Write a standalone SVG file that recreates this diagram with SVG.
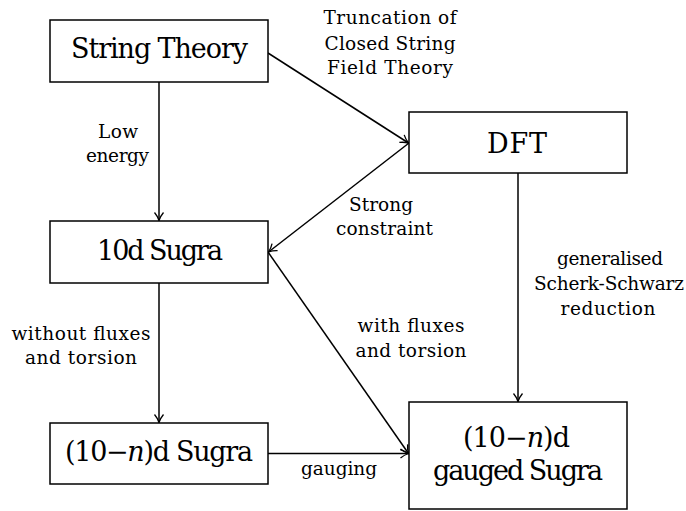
<svg xmlns="http://www.w3.org/2000/svg" width="686" height="511" viewBox="0 0 686 511">
<style>
.box{fill:#fff;stroke:#000;stroke-width:1.5}
.node{font-family:"DejaVu Serif","Liberation Serif",serif;font-size:27px;fill:#000;text-anchor:middle}
.lbl{font-family:"DejaVu Serif","Liberation Serif",serif;font-size:18.5px;fill:#000;text-anchor:middle}
.edge{fill:none;stroke:#000;stroke-width:1.5;marker-end:url(#arr)}
</style>
<defs>
<marker id="arr" viewBox="-10 -6 12 12" refX="0" refY="0" markerWidth="12" markerHeight="12" orient="auto" markerUnits="userSpaceOnUse">
<path d="M-8,-4.5 C-5,-2 -1.5,-0.5 0,0 C-1.5,0.5 -5,2 -8,4.5" fill="none" stroke="#000" stroke-width="1.3"/>
</marker>
</defs>
<rect width="686" height="511" fill="#fff"/>
<g id="connectors">
<line class="edge" x1="268" y1="53" x2="408.5" y2="143"/>
<line class="edge" x1="159" y1="82" x2="159" y2="220.5"/>
<line class="edge" x1="409" y1="143" x2="268.5" y2="252"/>
<line class="edge" x1="518" y1="173" x2="518" y2="401.5"/>
<line class="edge" x1="159" y1="283" x2="159" y2="422.5"/>
<line class="edge" x1="268" y1="252" x2="408.5" y2="453.5"/>
<line class="edge" x1="268" y1="453.5" x2="408.5" y2="453.5"/>
</g>
<g id="edge-labels">
<text class="lbl" x="390" y="24" textLength="133">Truncation of</text>
<text class="lbl" x="390" y="50" textLength="131">Closed String</text>
<text class="lbl" x="390" y="74" textLength="126">Field Theory</text>
<text class="lbl" x="118" y="138" textLength="40">Low</text>
<text class="lbl" x="117.5" y="162" textLength="63">energy</text>
<text class="lbl" x="381" y="211" textLength="64">Strong</text>
<text class="lbl" x="384.5" y="235" textLength="97">constraint</text>
<text class="lbl" x="610" y="265" textLength="106">generalised</text>
<text class="lbl" x="609" y="290" textLength="150">Scherk-Schwarz</text>
<text class="lbl" x="608" y="315" textLength="95">reduction</text>
<text class="lbl" x="81" y="340" textLength="139">without fluxes</text>
<text class="lbl" x="81" y="364" textLength="112">and torsion</text>
<text class="lbl" x="411" y="332" textLength="107">with fluxes</text>
<text class="lbl" x="411" y="357" textLength="111">and torsion</text>
<text class="lbl" x="339" y="475" textLength="76">gauging</text>
</g>
<g id="node-string-theory">
<rect class="box" x="50" y="20" width="218" height="62"/>
<text class="node" x="159.5" y="58" textLength="177">String Theory</text>
</g>
<g id="node-dft">
<rect class="box" x="409" y="112" width="218" height="61"/>
<text class="node" x="517" y="153" textLength="60">DFT</text>
</g>
<g id="node-10d-sugra">
<rect class="box" x="50" y="221" width="218" height="62"/>
<text class="node" x="160" y="260" textLength="126">10d Sugra</text>
</g>
<g id="node-10-n-d-sugra">
<rect class="box" x="50" y="423" width="218" height="61"/>
<text class="node" x="159" y="461" textLength="188">(10−<tspan font-style="italic">n</tspan>)d Sugra</text>
</g>
<g id="node-gauged-sugra">
<rect class="box" x="409" y="402" width="218" height="107"/>
<text class="node" x="516.5" y="447" textLength="107">(10−<tspan font-style="italic">n</tspan>)d</text>
<text class="node" x="518" y="480" textLength="170">gauged Sugra</text>
</g>
</svg>
